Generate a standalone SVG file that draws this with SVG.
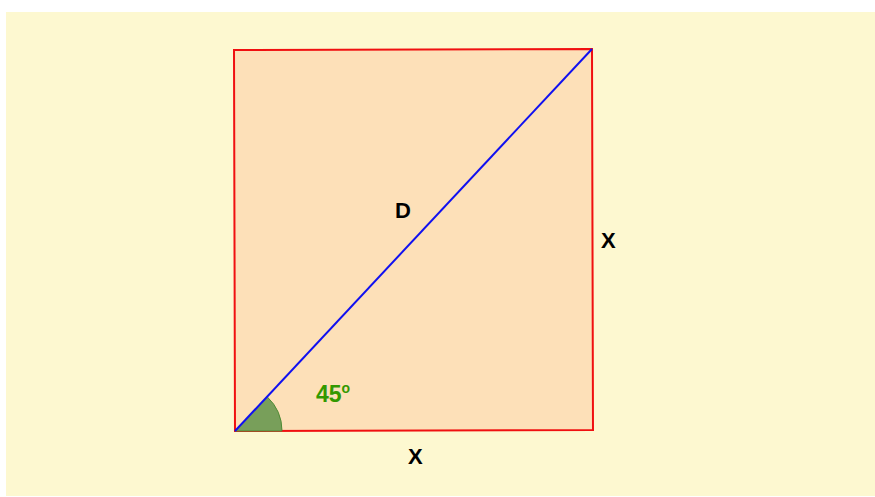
<svg xmlns="http://www.w3.org/2000/svg" width="875" height="497" viewBox="0 0 875 497">
<style>
.lbl{font-family:"Liberation Sans",Arial,sans-serif;font-weight:bold;font-size:22px;fill:#000}
.ang{font-family:"Liberation Sans",Arial,sans-serif;font-weight:bold;font-size:23px;fill:#339900}
</style>
<rect x="0" y="0" width="875" height="497" fill="#ffffff"/>
<rect x="6" y="12" width="869" height="484" fill="#fdf8d0"/>
<g id="square">
<polygon points="234,50 592,49 593,430 235,431" fill="#fde0b8" stroke="#f01010" stroke-width="2"/>
</g>
<g id="angle">
<path d="M235,431 L282,431 A47,47 0 0 0 267.1,396.7 Z" fill="#789f5a" stroke="#4e8a34" stroke-width="1"/>
</g>
<g id="connectors">
<line x1="235" y1="431" x2="592" y2="49" stroke="#1010f0" stroke-width="2"/>
</g>
<g id="labels">
<text class="lbl" x="395" y="218">D</text>
<text class="lbl" x="601" y="248">X</text>
<text class="lbl" x="408" y="464">X</text>
<text class="ang" x="316" y="402">45<tspan font-size="14" dy="-9">o</tspan></text>
</g>
</svg>
